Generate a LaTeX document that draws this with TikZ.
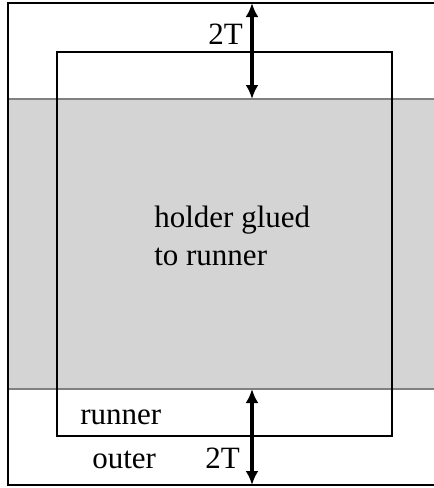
\documentclass[tikz,border=0pt]{standalone}
\usepackage{fontspec}
\setmainfont{Liberation Serif}
\usetikzlibrary{arrows.meta}
\tikzset{
  lbl/.style={inner sep=0pt,anchor=base west,font=\fontsize{31}{38}\selectfont},
  dim/.style={<->,line width=3.2pt},
}
\begin{document}
\begin{tikzpicture}[>={Latex[length=14pt,width=13pt]},x=1pt,y=-1pt,line width=2.6pt]
\useasboundingbox (0,0) rectangle (434,488);
\clip (0,0) rectangle (434,488);
% glued region
\fill [black!17] (8,99) rectangle (440,389);
\draw [black!50] (8,99) -- (440,99);
\draw [black!50] (8,389) -- (440,389);
% runner and outer
\draw (57,52) rectangle (392,436);
\draw (8,3) rectangle (440,485);
% 2T gaps
\coordinate (ttop) at (252,3);
\coordinate (tbot) at (252,99);
\coordinate (btop) at (252,389);
\coordinate (bbot) at (252,485);
\draw [dim] (ttop) -- (tbot);
\draw [dim] (btop) -- (bbot);
\node (gaptop) [lbl] at (207,44) {2T};
\node (gapbot) [lbl] at (204,468) {2T};
\node (holder) [lbl] at (153,227) {holder glued};
\node (holder2) [lbl] at (153,265) {to runner};
\node (runner) [lbl] at (79,424) {runner};
\node (outer) [lbl] at (91,468) {outer};
\end{tikzpicture}
\end{document}
